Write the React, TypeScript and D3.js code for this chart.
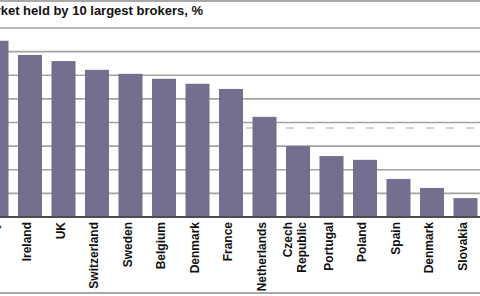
import React from "react";
import * as d3 from "d3";

const countries = [
  "Norway", "Ireland", "UK", "Switzerland", "Sweden", "Belgium", "Denmark", "France",
  "Netherlands", "Czech Republic", "Portugal", "Poland", "Spain", "Denmark ", "Slovakia",
];
const shares = [74.6, 68.6, 66, 62.3, 60.6, 58.5, 56.4, 54.2, 42.4, 30, 25.8, 24.2, 16.1, 12.3, 8];
const average = 37.7;
const yTicks = [0, 10, 20, 30, 40, 50, 60, 70, 80];
const title = "Share of market held by 10 largest brokers, %";

const W = 480;
const H = 296;
const FONT = "'Liberation Sans', Arial, sans-serif";

export default function App() {
  const x = d3
    .scaleBand<string>()
    .domain(countries)
    .range([-20.25, -20.25 + countries.length * 33.5])
    .paddingInner(0.2836)
    .paddingOuter(0.1418);
  const y = d3.scaleLinear().domain([0, 80]).range([217, 28]);
  const bw = x.bandwidth();

  return (
    <svg
      width={W}
      height={H}
      style={{ position: "absolute", left: 0, top: 0, background: "#fff" }}
      fontFamily={FONT}
    >
      <rect x={0} y={0} width={W} height={H} fill="#fff" />
      <line x1={0} x2={W} y1={1} y2={1} stroke="#a8a8a8" strokeWidth={2} />
      <text x={203} y={15} textAnchor="end" fontSize={13} fontWeight="bold" fill="#111">
        {title}
      </text>
      {yTicks
        .filter((t) => t > 0)
        .map((t) => (
          <line key={t} x1={0} x2={W} y1={y(t)} y2={y(t)} stroke="#a3a3a3" strokeWidth={1.6} />
        ))}
      <line
        x1={246}
        x2={W}
        y1={y(average)}
        y2={y(average)}
        stroke="#c4c4c4"
        strokeWidth={1.6}
        strokeDasharray="8,12"
      />
      <line x1={0} x2={W} y1={y(0)} y2={y(0)} stroke="#111" strokeWidth={1.6} />
      {countries.map((c, i) => (
        <rect
          key={c + i}
          x={x(c)}
          y={y(shares[i])}
          width={bw}
          height={y(0) - y(shares[i]) - 1}
          fill="#766e8e"
        />
      ))}
      {countries.map((c, i) => {
        const cx = (x(c) as number) + bw / 2;
        const lines = c.trim() === "Czech Republic" ? ["Czech", "Republic"] : [c.trim()];
        return lines.map((ln, j) => (
          <text
            key={c + j}
            transform={`translate(${cx + 1 - (lines.length - 1 - j) * 14 + (lines.length - 1) * 7},222) rotate(-90)`}
            textAnchor="end"
            fontSize={12}
            fontWeight="bold"
            fill="#111"
          >
            {ln}
          </text>
        ));
      })}
      <line x1={0} x2={W} y1={293} y2={293} stroke="#a8a8a8" strokeWidth={2} />
    </svg>
  );
}
